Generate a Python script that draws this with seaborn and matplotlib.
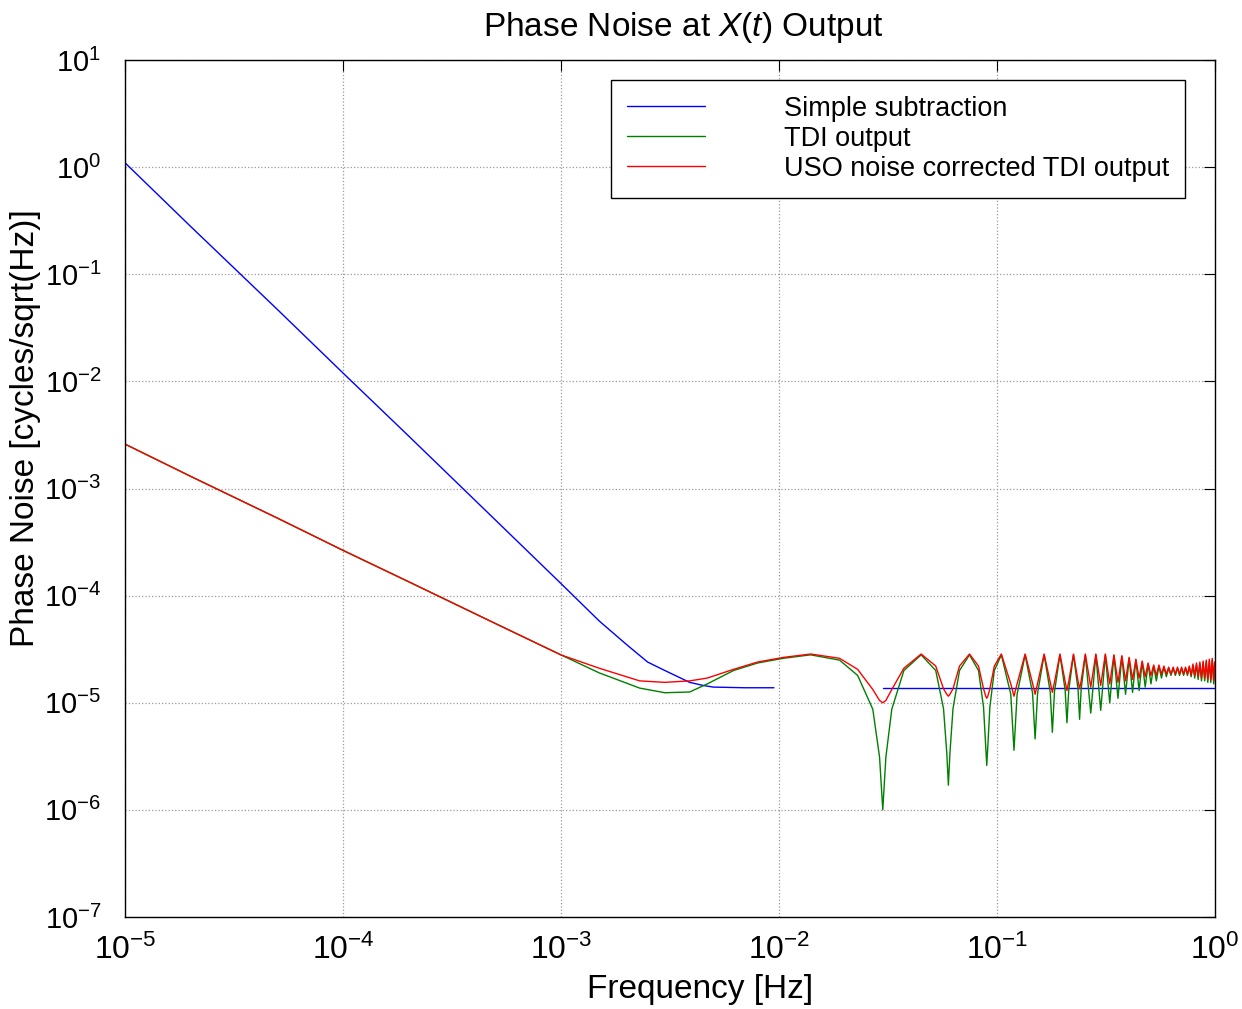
import numpy as np
import pandas as pd
import matplotlib
matplotlib.use("Agg")
import matplotlib.pyplot as plt
from matplotlib.lines import Line2D
from matplotlib.ticker import NullLocator
import seaborn as sns

OUTPUT_IMAGE_FILENAME = "out.png"

SERIES_NAMES = ["Simple subtraction", "TDI output", "USO noise corrected TDI output"]
SERIES_COLORS = ["#0000ff", "#008000", "#ff0000"]

# Simple subtraction: low-frequency branch and the flat high-frequency branch
BLUE_FREQ_LOW = [1e-5, 2e-5, 5e-5, 1e-4, 2e-4, 5e-4, 1e-3, 1.5e-3, 2e-3, 2.5e-3,
                 3e-3, 3.9e-3, 4.5e-3, 5e-3, 7e-3, 9.5e-3]
BLUE_VAL_LOW = [1.1, 0.28, 0.047, 1.2e-2, 3.1e-3, 5.1e-4, 1.3e-4, 5.8e-5, 3.5e-5, 2.4e-5,
                2.0e-5, 1.55e-5, 1.45e-5, 1.4e-5, 1.38e-5, 1.38e-5]
BLUE_FREQ_HIGH = [0.03, 1.0]
BLUE_VAL_HIGH = [1.38e-5, 1.38e-5]

# TDI output and USO corrected TDI output share one frequency grid
TDI_FREQ = [
    1e-5, 2e-5, 5e-5, 1e-4, 2e-4, 5e-4, 1e-3, 1.5e-3, 2.3e-3, 3e-3,
    3.9e-3, 4.7e-3, 6.2e-3, 8e-3, 1.05e-2, 1.4e-2, 1.9e-2, 2.3e-2,
    0.027, 0.029, 0.030, 0.031, 0.033, 0.0375, 0.045,
    0.0525, 0.057, 0.059, 0.060, 0.061, 0.063, 0.0675, 0.075,
    0.0825, 0.087, 0.089, 0.090, 0.091, 0.093, 0.0975, 0.105,
    0.116, 0.120, 0.124, 0.135,
    0.146, 0.150, 0.154, 0.165,
    0.176, 0.180, 0.184, 0.195,
    0.206, 0.210, 0.214, 0.225,
    0.236, 0.240, 0.244, 0.255,
    0.27, 0.285, 0.30, 0.315, 0.33, 0.345, 0.36, 0.375, 0.39, 0.405,
    0.42, 0.435, 0.45, 0.465, 0.48, 0.495, 0.51, 0.525, 0.54, 0.555,
    0.57, 0.585, 0.60, 0.615, 0.63, 0.645, 0.66, 0.675, 0.69, 0.705,
    0.72, 0.735, 0.75, 0.765, 0.78, 0.795, 0.81, 0.825, 0.84, 0.855,
    0.87, 0.885, 0.90, 0.915, 0.93, 0.945, 0.96, 0.975, 0.99, 1.0,
]

TDI_VAL = [
    2.6e-3, 1.3e-3, 5.3e-4, 2.65e-4, 1.35e-4, 5.5e-5, 2.8e-5, 1.9e-5, 1.37e-5, 1.24e-5,
    1.26e-5, 1.5e-5, 2.0e-5, 2.35e-5, 2.6e-5, 2.8e-5, 2.5e-5, 1.8e-5,
    8.7e-6, 3.1e-6, 1.0e-6, 3.1e-6, 8.7e-6, 2.0e-5, 2.8e-5,
    2.0e-5, 8.8e-6, 3.4e-6, 1.7e-6, 3.4e-6, 8.8e-6, 2.0e-5, 2.8e-5,
    2.0e-5, 9.1e-6, 3.9e-6, 2.6e-6, 3.9e-6, 9.1e-6, 2.0e-5, 2.8e-5,
    1.2e-5, 3.6e-6, 1.2e-5, 2.8e-5,
    1.23e-5, 4.6e-6, 1.23e-5, 2.8e-5,
    1.26e-5, 5.3e-6, 1.26e-5, 2.8e-5,
    1.31e-5, 6.5e-6, 1.31e-5, 2.8e-5,
    1.34e-5, 7.0e-6, 1.34e-5, 2.8e-5,
    8.0e-6, 2.8e-5, 8.5e-6, 2.8e-5, 1.0e-5, 2.75e-5, 1.1e-5, 2.7e-5, 1.2e-5, 2.6e-5,
    1.25e-5, 2.5e-5, 1.3e-5, 2.4e-5, 1.4e-5, 2.3e-5, 1.5e-5, 2.2e-5, 1.6e-5, 2.2e-5,
    1.7e-5, 2.15e-5, 1.75e-5, 2.1e-5, 1.8e-5, 2.1e-5, 1.8e-5, 2.1e-5, 1.8e-5, 2.1e-5,
    1.8e-5, 2.1e-5, 1.8e-5, 2.15e-5, 1.75e-5, 2.2e-5, 1.7e-5, 2.25e-5, 1.65e-5, 2.3e-5,
    1.6e-5, 2.35e-5, 1.6e-5, 2.4e-5, 1.55e-5, 2.45e-5, 1.55e-5, 2.5e-5, 1.5e-5, 2.3e-5,
]

USO_VAL = [
    2.6e-3, 1.3e-3, 5.3e-4, 2.65e-4, 1.35e-4, 5.5e-5, 2.8e-5, 2.1e-5, 1.6e-5, 1.55e-5,
    1.6e-5, 1.7e-5, 2.05e-5, 2.4e-5, 2.65e-5, 2.85e-5, 2.6e-5, 2.05e-5,
    1.33e-5, 1.05e-5, 1.0e-5, 1.05e-5, 1.33e-5, 2.1e-5, 2.85e-5,
    2.2e-5, 1.35e-5, 1.2e-5, 1.15e-5, 1.2e-5, 1.35e-5, 2.2e-5, 2.85e-5,
    2.2e-5, 1.35e-5, 1.15e-5, 1.1e-5, 1.15e-5, 1.35e-5, 2.2e-5, 2.85e-5,
    1.5e-5, 1.15e-5, 1.5e-5, 2.85e-5,
    1.52e-5, 1.2e-5, 1.52e-5, 2.85e-5,
    1.55e-5, 1.25e-5, 1.55e-5, 2.85e-5,
    1.58e-5, 1.3e-5, 1.58e-5, 2.85e-5,
    1.6e-5, 1.35e-5, 1.6e-5, 2.85e-5,
    1.4e-5, 2.85e-5, 1.45e-5, 2.85e-5, 1.5e-5, 2.8e-5, 1.55e-5, 2.75e-5, 1.6e-5, 2.65e-5,
    1.65e-5, 2.55e-5, 1.7e-5, 2.45e-5, 1.75e-5, 2.35e-5, 1.8e-5, 2.25e-5, 1.8e-5, 2.25e-5,
    1.85e-5, 2.2e-5, 1.85e-5, 2.15e-5, 1.85e-5, 2.15e-5, 1.85e-5, 2.15e-5, 1.85e-5, 2.15e-5,
    1.85e-5, 2.15e-5, 1.85e-5, 2.2e-5, 1.8e-5, 2.3e-5, 1.8e-5, 2.35e-5, 1.75e-5, 2.4e-5,
    1.7e-5, 2.45e-5, 1.7e-5, 2.5e-5, 1.65e-5, 2.55e-5, 1.65e-5, 2.6e-5, 1.6e-5, 2.4e-5,
]

X_TICKS = [1e-5, 1e-4, 1e-3, 1e-2, 1e-1, 1e0]
Y_TICKS = [1e-7, 1e-6, 1e-5, 1e-4, 1e-3, 1e-2, 1e-1, 1e0, 1e1]


def build_frame():
    # long-form table, one "segment" per unbroken line piece
    parts = [
        pd.DataFrame({"freq": BLUE_FREQ_LOW, "value": BLUE_VAL_LOW,
                      "series": SERIES_NAMES[0], "segment": 0}),
        pd.DataFrame({"freq": BLUE_FREQ_HIGH, "value": BLUE_VAL_HIGH,
                      "series": SERIES_NAMES[0], "segment": 1}),
        pd.DataFrame({"freq": TDI_FREQ, "value": TDI_VAL,
                      "series": SERIES_NAMES[1], "segment": 0}),
        pd.DataFrame({"freq": TDI_FREQ, "value": USO_VAL,
                      "series": SERIES_NAMES[2], "segment": 0}),
    ]
    return pd.concat(parts, ignore_index=True)


sns.set_style("white")
plt.rcParams["font.family"] = ["Liberation Sans", "DejaVu Sans"]
plt.rcParams["mathtext.fontset"] = "custom"
plt.rcParams["mathtext.rm"] = "Liberation Sans"
plt.rcParams["mathtext.it"] = "Liberation Sans:italic"
plt.rcParams["axes.unicode_minus"] = False
for key in ["text.color", "axes.labelcolor", "xtick.color", "ytick.color"]:
    plt.rcParams[key] = "black"

df = build_frame()
palette = dict(zip(SERIES_NAMES, SERIES_COLORS))

fig = plt.figure(figsize=(12.42, 10.09), dpi=100)
ax = fig.add_axes([0.1006, 0.0912, 0.8774, 0.8493])

sns.lineplot(data=df, x="freq", y="value", hue="series", hue_order=SERIES_NAMES,
             units="segment", estimator=None, sort=False, palette=palette,
             linewidth=1.0, legend=False, ax=ax)

ax.set_xscale("log")
ax.set_yscale("log")
ax.set_xticks(X_TICKS)
ax.set_yticks(Y_TICKS)
ax.xaxis.set_minor_locator(NullLocator())
ax.yaxis.set_minor_locator(NullLocator())
ax.set_xlim(X_TICKS[0], X_TICKS[-1])
ax.set_ylim(Y_TICKS[0], Y_TICKS[-1])

ax.grid(True, which="major", linestyle=":", color="#9a9a9a", linewidth=0.9)
for spine in ax.spines.values():
    spine.set_color("black")
    spine.set_linewidth(1.0)
ax.tick_params(which="major", direction="in", top=True, right=True, length=8,
               width=0.8, color="black")
ax.tick_params(axis="x", pad=13, labelsize=23)
ax.tick_params(axis="y", pad=17, labelsize=21)

ax.set_title("Phase Noise at $X(t)$ Output", fontsize=24, x=0.512, pad=17)
ax.set_xlabel("Frequency [Hz]", fontsize=24)
ax.set_ylabel("Phase Noise [cycles/sqrt(Hz)]", fontsize=24)
ax.xaxis.set_label_coords(0.528, -0.066)
ax.yaxis.set_label_coords(-0.077, 0.571)

handles = [Line2D([], [], color=c, linewidth=1.0) for c in SERIES_COLORS]
leg = ax.legend(handles, SERIES_NAMES, loc="upper right",
                bbox_to_anchor=(0.9725, 0.9767), borderaxespad=0, fontsize=19.5,
                handlelength=2.9, handletextpad=2.9, labelspacing=0.15,
                borderpad=0.58, fancybox=False, framealpha=1, edgecolor="black")
leg.get_frame().set_linewidth(1.0)

fig.savefig(OUTPUT_IMAGE_FILENAME, dpi=100)
